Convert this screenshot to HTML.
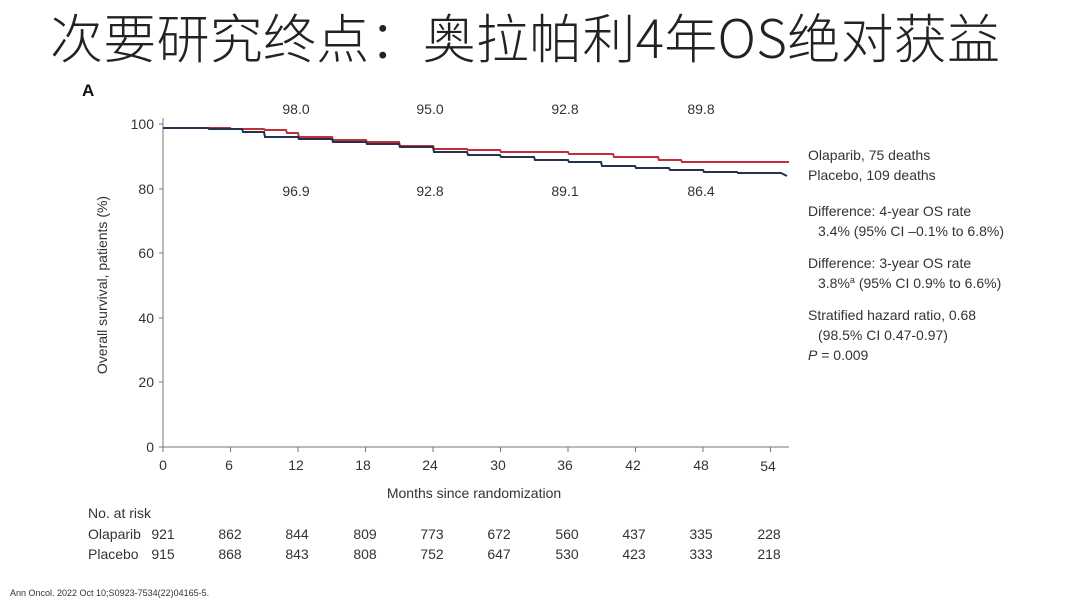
<!DOCTYPE html>
<html><head><meta charset="utf-8"><style>
body{margin:0;background:#fff;}
svg{display:block}
text{font-family:"Liberation Sans",Arial,sans-serif;fill:#333}
</style></head><body>
<svg width="1080" height="612" viewBox="0 0 1080 612" xmlns="http://www.w3.org/2000/svg">
<text x="50" y="58" style="font-family:'Noto Sans CJK SC',sans-serif;font-size:53px;fill:#222;font-weight:300" textLength="950">次要研究终点：奥拉帕利4年OS绝对获益</text>
<text x="82" y="96" style="font-size:17px;font-weight:bold;fill:#111">A</text>
<g font-size="14">
<text x="296" y="114" text-anchor="middle">98.0</text>
<text x="430" y="114" text-anchor="middle">95.0</text>
<text x="565" y="114" text-anchor="middle">92.8</text>
<text x="701" y="114" text-anchor="middle">89.8</text>
<text x="296" y="196" text-anchor="middle">96.9</text>
<text x="430" y="196" text-anchor="middle">92.8</text>
<text x="565" y="196" text-anchor="middle">89.1</text>
<text x="701" y="196" text-anchor="middle">86.4</text>
</g>
<g stroke="#777" stroke-width="1" fill="none">
<line x1="163" y1="118" x2="163" y2="447"/>
<line x1="163" y1="447" x2="789" y2="447"/>
<line x1="159" y1="124" x2="163" y2="124"/><line x1="159" y1="189" x2="163" y2="189"/>
<line x1="159" y1="253" x2="163" y2="253"/><line x1="159" y1="318" x2="163" y2="318"/>
<line x1="159" y1="382" x2="163" y2="382"/><line x1="159" y1="447" x2="163" y2="447"/>
<line x1="163" y1="447" x2="163" y2="452"/><line x1="230.5" y1="447" x2="230.5" y2="452"/>
<line x1="298" y1="447" x2="298" y2="452"/><line x1="365.5" y1="447" x2="365.5" y2="452"/>
<line x1="433" y1="447" x2="433" y2="452"/><line x1="500.5" y1="447" x2="500.5" y2="452"/>
<line x1="568" y1="447" x2="568" y2="452"/><line x1="635.5" y1="447" x2="635.5" y2="452"/>
<line x1="703" y1="447" x2="703" y2="452"/><line x1="770.5" y1="447" x2="770.5" y2="452"/>
</g>
<g font-size="14" text-anchor="end">
<text x="154" y="129">100</text><text x="154" y="194">80</text><text x="154" y="258">60</text>
<text x="154" y="323">40</text><text x="154" y="387">20</text><text x="154" y="452">0</text>
</g>
<g font-size="14" text-anchor="middle">
<text x="163" y="470">0</text><text x="229" y="470">6</text><text x="296" y="470">12</text>
<text x="363" y="470">18</text><text x="430" y="470">24</text><text x="498" y="470">30</text>
<text x="565" y="470">36</text><text x="633" y="470">42</text><text x="701" y="470">48</text>
<text x="768" y="471">54</text>
<text x="474" y="498">Months since randomization</text>
</g>
<text transform="translate(107,285) rotate(-90)" font-size="14" text-anchor="middle">Overall survival, patients (%)</text>
<polyline fill="none" stroke="#c0303a" stroke-width="2" points="163,128 230,128 231,129 264,129 265,130 286,130 287,133 298,133 299,137 332,137 333,140 366,140 367,142 399,142 400,146 433,146 434,149 467,149 468,150 500,150 501,152 568,152 569,154 613,154 614,157 658,157 659,160 681,160 682,162 715,162 716,162 789,162"/>
<polyline fill="none" stroke="#24324f" stroke-width="2" points="163,128 208,128 209,129 242,129 243,132 264,132 265,137 298,137 299,139 332,139 333,142 366,142 367,144 399,144 400,147 433,147 434,152 467,152 468,155 500,155 501,157 534,157 535,160 568,160 569,162 601,162 602,166 635,166 636,168 669,168 670,170 703,170 704,172 737,172 738,173 781,173 787,176"/>
<g font-size="14">
<text x="808" y="160">Olaparib, 75 deaths</text>
<text x="808" y="180">Placebo, 109 deaths</text>
<text x="808" y="216">Difference: 4-year OS rate</text>
<text x="818" y="236">3.4% (95% CI –0.1% to 6.8%)</text>
<text x="808" y="268">Difference: 3-year OS rate</text>
<text x="818" y="288">3.8%<tspan font-size="9" dy="-5">a</tspan><tspan dy="5"> (95% CI 0.9% to 6.6%)</tspan></text>
<text x="808" y="320">Stratified hazard ratio, 0.68</text>
<text x="818" y="340">(98.5% CI 0.47-0.97)</text>
<text x="808" y="360"><tspan font-style="italic">P</tspan> = 0.009</text>
</g>
<g font-size="14">
<text x="88" y="518">No. at risk</text>
<text x="88" y="539">Olaparib</text>
<text x="88" y="559">Placebo</text>
</g>
<g font-size="14" text-anchor="middle">
<text x="163" y="539">921</text><text x="230" y="539">862</text><text x="297" y="539">844</text><text x="365" y="539">809</text><text x="432" y="539">773</text><text x="499" y="539">672</text><text x="567" y="539">560</text><text x="634" y="539">437</text><text x="701" y="539">335</text><text x="769" y="539">228</text>
<text x="163" y="559">915</text><text x="230" y="559">868</text><text x="297" y="559">843</text><text x="365" y="559">808</text><text x="432" y="559">752</text><text x="499" y="559">647</text><text x="567" y="559">530</text><text x="634" y="559">423</text><text x="701" y="559">333</text><text x="769" y="559">218</text>
</g>
<text x="10" y="596" font-size="9" fill="#555">Ann Oncol. 2022 Oct 10;S0923-7534(22)04165-5.</text>
</svg>
</body></html>
